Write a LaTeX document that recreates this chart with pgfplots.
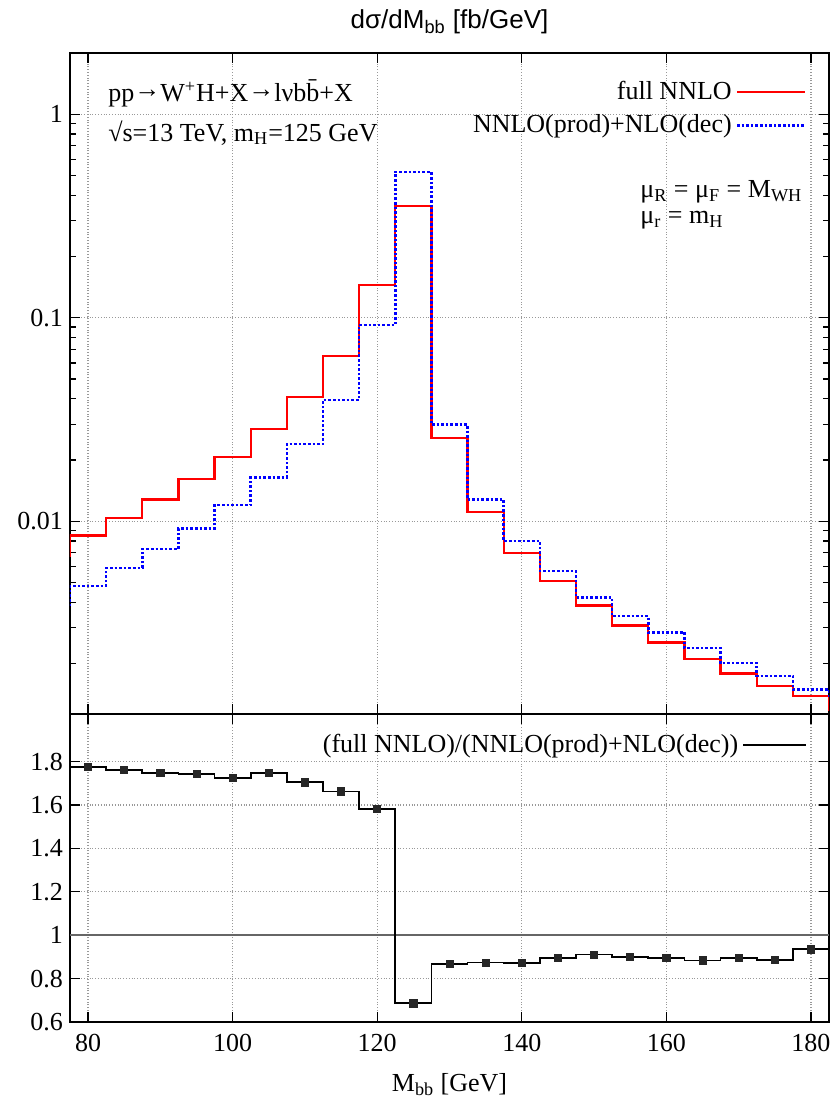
\documentclass[border=0pt]{standalone}
\usepackage{fontspec}
\setmainfont{Liberation Serif}
\newfontfamily\titlefont{Liberation Sans}
\usepackage{pgfplots}
\usepackage{pgfplotstable}
\pgfplotsset{compat=1.18}
\newcommand\F{\fontsize{13}{15}\selectfont}
\newcommand\ar{\raisebox{0.12em}{→}}

\pgfplotstableread{
x red blue
72.5 0.0068 0.0038
77.5 0.0085 0.0048
82.5 0.0104 0.0059
87.5 0.0128 0.0073
92.5 0.0161 0.0092
97.5 0.0207 0.0120
102.5 0.0284 0.0164
107.5 0.0407 0.0240
112.5 0.065 0.0395
117.5 0.145 0.092
122.5 0.354 0.52
127.5 0.0257 0.0298
132.5 0.0111 0.0128
137.5 0.0070 0.0080
142.5 0.00508 0.00569
147.5 0.00385 0.00422
152.5 0.00308 0.00342
157.5 0.00254 0.00285
162.5 0.00210 0.00238
167.5 0.00179 0.00201
172.5 0.00155 0.00174
177.5 0.00139 0.00149
182.5 0.00119 0.00136
187.5 0.00119 0.00136
}\hist

\pgfplotstableread{
x r
77.5 1.777
82.5 1.762
87.5 1.747
92.5 1.744
97.5 1.724
102.5 1.748
107.5 1.705
112.5 1.663
117.5 1.581
122.5 0.686
127.5 0.868
132.5 0.874
137.5 0.873
142.5 0.894
147.5 0.911
152.5 0.899
157.5 0.896
162.5 0.884
167.5 0.894
172.5 0.885
177.5 0.935
182.5 0.935
}\ratio

\pgfplotstableread{
x r
80 1.777
85 1.762
90 1.747
95 1.744
100 1.724
105 1.748
110 1.705
115 1.663
120 1.581
125 0.686
130 0.868
135 0.874
140 0.873
145 0.894
150 0.911
155 0.899
160 0.896
165 0.884
170 0.894
175 0.885
180 0.935
}\ratiopts

\begin{document}
\begin{tikzpicture}
\useasboundingbox (-35pt,-37.5pt) rectangle (380.5pt,511pt);
\pgfplotsset{
  every axis/.append style={
    scale only axis, width=379.5pt,
    xmin=77.5, xmax=182.5,
    xtick={80,100,...,180},
    grid=major,
    major grid style={densely dotted, gray!80, line width=0.6pt},
    axis line style={line width=0.9pt},
    tick style={black, line width=0.6pt},
    major tick length=5pt, minor tick length=3pt,
    tick label style={font=\F},
    /pgf/number format/assume math mode=true,
    clip mode=individual,
  },
}
\begin{axis}[
  at={(0pt,154pt)}, anchor=south west,
  height=330.5pt,
  ymode=log, ymin=0.00113, ymax=2,
  ytick={0.01,0.1,1}, yticklabels={0.01,0.1,1},
  minor ytick={0.002,0.003,0.004,0.005,0.006,0.007,0.008,0.009,0.02,0.03,0.04,0.05,0.06,0.07,0.08,0.09,0.2,0.3,0.4,0.5,0.6,0.7,0.8,0.9,2},
  xticklabels={},
  title={\titlefont dσ/dM\textsubscript{bb} [fb/GeV]},
  title style={font=\F, yshift=0pt},
  legend plot pos=right,
  legend cell align=right,
  legend style={at={(rel axis cs:1,1)}, anchor=north east, xshift=-8pt, yshift=-10pt,
    draw=none, fill=none, font=\F, row sep=2pt},
  legend image code/.code={\draw[#1] (0cm,0cm) -- (1.2cm,0cm);},
]
\addplot[const plot, red, line width=1.2pt] table[x=x, y=red] {\hist};
\addlegendentry{full NNLO}
\addplot[const plot, blue, densely dotted, line width=1.3pt] table[x=x, y=blue] {\hist};
\addlegendentry{NNLO(prod)+NLO(dec)}
\node[anchor=west, font=\F, inner sep=0] at (rel axis cs:0.050,0.9395) {pp\ar W\textsuperscript{+}H+X\ar lνb\={b}+X};
\node[anchor=west, font=\F, inner sep=0] at (rel axis cs:0.050,0.879) {√s=13 TeV, m\textsubscript{H}=125 GeV};
\node[anchor=west, font=\F, inner sep=0] at (rel axis cs:0.751,0.790) {μ\textsubscript{R} = μ\textsubscript{F} = M\textsubscript{WH}};
\node[anchor=west, font=\F, inner sep=0] at (rel axis cs:0.751,0.747) {μ\textsubscript{r} = m\textsubscript{H}};
\end{axis}

\begin{axis}[
  at={(0pt,0pt)}, anchor=south west,
  height=154pt,
  ymin=0.6, ymax=2.02,
  ytick={0.6,0.8,1,1.2,1.4,1.6,1.8},
  yticklabels={0.6,0.8,1,1.2,1.4,1.6,1.8},
  xticklabels={80,100,120,140,160,180},
  xticklabel style={yshift=-2.5pt},
  xlabel={M\textsubscript{bb} [GeV]},
  xlabel style={font=\F, yshift=-4pt},
  legend plot pos=right,
  legend cell align=right,
  legend style={at={(rel axis cs:1,1)}, anchor=north east, xshift=-8pt, yshift=-6pt,
    draw=none, fill=none, font=\F},
  legend image code/.code={\draw[#1] (0cm,0cm) -- (1.1cm,0cm);},
]
\addplot[gray!80!black, line width=1pt, forget plot] coordinates {(77.5,1) (182.5,1)};
\addplot[const plot, black, line width=0.9pt] table[x=x, y=r] {\ratio};
\addlegendentry{(full NNLO)/(NNLO(prod)+NLO(dec))}
\addplot[only marks, mark=square*, mark size=1.8pt, black!85, forget plot] table[x=x, y=r] {\ratiopts};
\end{axis}
\end{tikzpicture}
\end{document}
